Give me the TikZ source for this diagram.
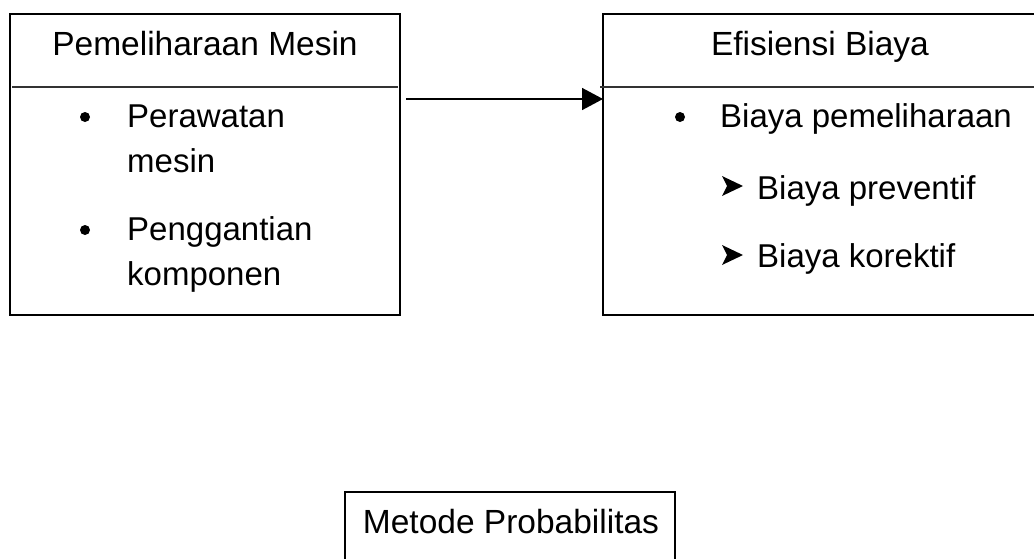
\documentclass[tikz,border=0pt]{standalone}
\usepackage{fontspec}
\setmainfont{Liberation Sans}
\usetikzlibrary{arrows.meta}
\tikzset{
  frame/.style={draw=black, line width=1.6pt, inner sep=0pt, fill=none},
  divider/.style={draw=black!80, line width=1.6pt},
  title/.style={anchor=base, inner sep=0pt, font=\fontsize{33.5}{40}\selectfont},
  item/.style={anchor=base west, inner sep=0pt, font=\fontsize{33}{40}\selectfont},
  dot/.style={circle, fill=black, inner sep=0pt, minimum size=10pt},
  link/.style={draw=black, line width=1.6pt, -{Triangle[length=21pt, width=22pt]}},
}
\begin{document}
\begin{tikzpicture}[x=1pt, y=-1pt]
\useasboundingbox (0,0) rectangle (1034,558);
% left box
\node[frame, minimum width=390pt, minimum height=301pt] (pm) at (205,164.5) {};
\coordinate (pmdl) at (12,87);
\coordinate (pmdr) at (398,87);
\draw[divider] (pmdl) -- (pmdr);
\node[title] (pmt) at (205,55) {Pemeliharaan Mesin};
\node[dot] (b1) at (85,117) {};
\node[item] (l1) at (127,127) {Perawatan};
\node[item] (l2) at (127,172) {mesin};
\node[dot] (b2) at (85,230) {};
\node[item] (l3) at (127,240) {Penggantian};
\node[item] (l4) at (127,285) {komponen};
% right box
\node[frame, minimum width=434pt, minimum height=301pt] (eb) at (820,164.5) {};
\coordinate (ebdl) at (600,87);
\coordinate (ebdr) at (1036,87);
\draw[divider] (ebdl) -- (ebdr);
\node[title] (ebt) at (820,55) {Efisiensi Biaya};
\node[dot] (b3) at (680,117) {};
\node[item] (r1) at (720,127) {Biaya pemeliharaan};
\fill (722,176) -- (743,186) -- (722,196) -- (727,186) -- cycle;
\node[item] (r2) at (757,199) {Biaya preventif};
\fill (722,245) -- (743,255) -- (722,265) -- (727,255) -- cycle;
\node[item] (r3) at (757,267) {Biaya korektif};
% arrow
\coordinate (as) at (406,99);
\coordinate (ae) at (603,99);
\draw[link] (as) -- (ae);
% bottom box
\node[frame, minimum width=330pt, minimum height=120pt] (mp) at (510,552) {};
\node[title] (mpt) at (511,533) {Metode Probabilitas};
\end{tikzpicture}
\end{document}
